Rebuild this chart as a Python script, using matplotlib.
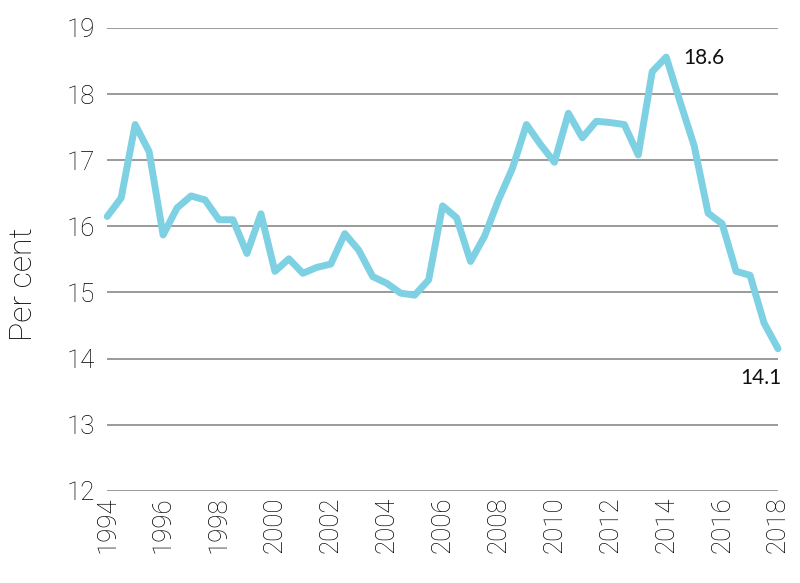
import matplotlib
matplotlib.use("Agg")
import matplotlib.pyplot as plt
import numpy as np

years = np.arange(1994.0, 2018.01, 0.5)
values = [16.15, 16.43, 17.54, 17.13, 15.87, 16.28, 16.46, 16.40, 16.10, 16.10,
          15.59, 16.19, 15.32, 15.51, 15.29, 15.38, 15.43, 15.89, 15.64, 15.24,
          15.14, 14.99, 14.96, 15.19, 16.31, 16.13, 15.47, 15.85, 16.40, 16.88,
          17.54, 17.24, 16.97, 17.71, 17.34, 17.59, 17.57, 17.54, 17.08, 18.34,
          18.56, 17.88, 17.22, 16.20, 16.04, 15.32, 15.26, 14.54, 14.15]
xticks = list(range(1994, 2019, 2))
yticks = list(range(12, 20))
peak_label = "18.6"
last_label = "14.1"

plt.rcParams['font.family'] = ['Roboto', 'DejaVu Sans']
TXT = '#000000'

fig = plt.figure(figsize=(8, 5.83), dpi=100)
ax = fig.add_axes([0.134, 0.158, 0.8385, 0.794])

for y in yticks:
    ax.axhline(y, color='#9a9a9a', lw=1.4, zorder=1)

ax.plot(years, values, color='#7ed1e2', lw=5, solid_joinstyle='round',
        solid_capstyle='round', zorder=3, clip_on=False)

ax.set_xlim(1994, 2018)
ax.set_ylim(12, 19)
ax.set_xticks(xticks)
ax.set_xticklabels([str(t) for t in xticks], rotation=90, fontsize=18.5,
                   color=TXT, fontweight='light')
ax.set_yticks(yticks)
ax.set_yticklabels([str(t) for t in yticks], fontsize=18.5, color=TXT,
                   fontweight='light')
ax.tick_params(axis='y', length=0, pad=9)
ax.tick_params(axis='x', length=0, pad=4)
for s in ax.spines.values():
    s.set_visible(False)
fig.text(24 / 800, 1 - 284 / 583, 'Per cent', rotation=90, ha='center', va='center',
         fontsize=23, color=TXT, fontweight='light')

i_peak = int(np.argmax(values))
ax.annotate(peak_label, (years[i_peak], values[i_peak]), xytext=(27, -1),
            textcoords='offset points', fontsize=15, color='#111111', va='center',
            ha='center', family=['Lato', 'DejaVu Sans'])
ax.annotate(last_label, (years[-1], values[-1]), xytext=(-12, -21),
            textcoords='offset points', fontsize=15, color='#111111', va='center',
            ha='center', family=['Lato', 'DejaVu Sans'])

fig.savefig('out.png', dpi=100, facecolor='white')
